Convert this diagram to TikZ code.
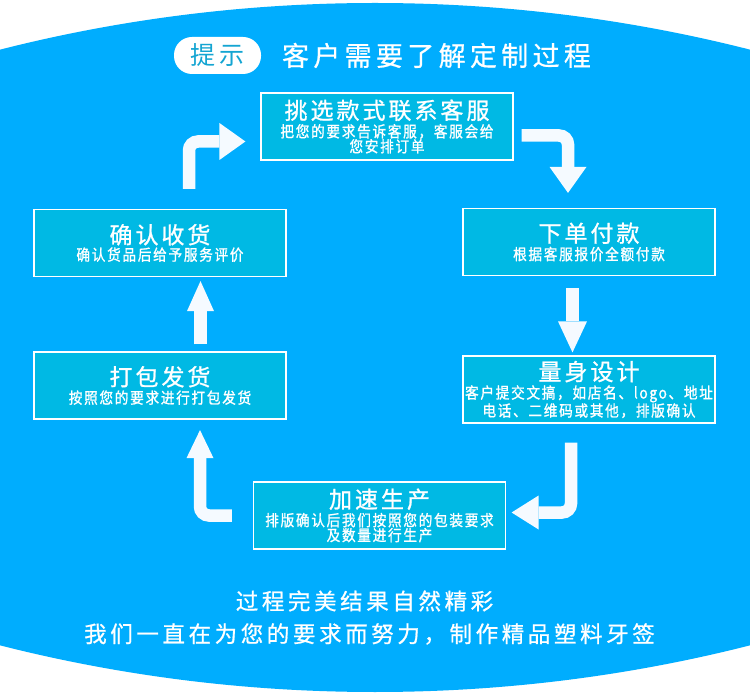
\documentclass[tikz,border=0pt]{standalone}
\usepackage{fontspec}
\setmainfont{Noto Sans CJK SC}
\usetikzlibrary{arrows.meta}
\definecolor{bgblue}{RGB}{0,173,254}
\definecolor{boxfill}{RGB}{0,185,228}
\definecolor{arrowc}{RGB}{245,250,255}
\definecolor{tipc}{RGB}{20,165,210}
\newcommand\hdrf{\fontsize{27}{30}\selectfont\addfontfeatures{LetterSpace=16,FakeBold=0.6}}
\newcommand\ttlf{\fontsize{23}{24}\selectfont\addfontfeatures{FakeStretch=1,LetterSpace=13,FakeBold=1}}
\newcommand\subf{\fontsize{15.5}{15}\selectfont\addfontfeatures{FakeStretch=0.88,LetterSpace=11,FakeBold=1.2}}
\newcommand\btmf{\fontsize{22.5}{24}\selectfont\addfontfeatures{LetterSpace=16,FakeBold=0.8}}
\tikzset{
  stepbox/.style={draw=white, line width=1.2pt, fill=boxfill, text=white,
    minimum width=252pt, minimum height=67pt, inner sep=0pt, align=center,
    font=\subf},
  arr/.style={draw=arrowc, line width=12.5pt, rounded corners=9pt},
}
\begin{document}
\begin{tikzpicture}[x=1pt,y=-1pt]
\useasboundingbox (0,0) rectangle (750,700);
\fill[white] (0,0) rectangle (750,700);
\begin{scope}
  \clip (375,1522) circle (1519);
  \clip (375,-827) circle (1519);
  \fill[bgblue] (0,0) rectangle (750,700);
\end{scope}
% header
\node[fill=white, rounded corners=18pt, minimum width=87pt, minimum height=37pt,
      inner sep=0pt, text=tipc, font={\fontsize{25}{26}\selectfont\addfontfeatures{LetterSpace=14}}]
      (tip) at (217.5,55.5) {提示};
\node[text=white, font=\hdrf, inner sep=0pt] (hdr) at (436.5,55.5) {客户需要了解定制过程};
% boxes
\node[stepbox] (pick) at (387,126.5) {{\ttlf 挑选款式联系客服}\\[2pt]把您的要求告诉客服，客服会给\\您安排订单};
\node[stepbox] (pay) at (589,242) {{\ttlf 下单付款}\\[2pt]根据客服报价全额付款};
\node[stepbox] (design) at (589,389.5) {{\ttlf 量身设计}\\[2pt]客户提交文搞，如店名、logo、地址\\电话、二维码或其他，排版确认};
\node[stepbox] (speed) at (379.5,515.5) {{\ttlf 加速生产}\\[2pt]排版确认后我们按照您的包装要求\\及数量进行生产};
\node[stepbox] (pack) at (160,385.5) {{\ttlf 打包发货}\\[2pt]按照您的要求进行打包发货};
\node[stepbox] (confirm) at (160,243) {{\ttlf 确认收货}\\[2pt]确认货品后给予服务评价};
% arrows
\draw[arr, -{Triangle[width=37pt,length=26pt,line width=0pt]}]
  ([shift={(29,-20)}]confirm.north) |- ([shift={(-15,15)}]pick.west);
\draw[arr, -{Triangle[width=37pt,length=26pt,line width=0pt]}]
  ([shift={(8,9)}]pick.east) -| ([shift={(-21,-15)}]pay.north);
\draw[arr, -{Triangle[width=29pt,length=31pt,line width=0pt]}]
  ([shift={(-16.5,12)}]pay.south) -- ([shift={(-16.5,-3)}]design.north);
\draw[arr, -{Triangle[width=34pt,length=27pt,line width=0pt]}]
  ([shift={(-18,19)}]design.south) |- ([shift={(5.5,-3)}]speed.east);
\draw[arr, -{Triangle[width=27pt,length=28pt,line width=0pt]}]
  ([shift={(-21,0)}]speed.west) -| ([shift={(40,10.5)}]pack.south);
\draw[arr, -{Triangle[width=27pt,length=30pt,line width=0pt]}]
  ([shift={(40.5,-7)}]pack.north) -- ([shift={(40.5,4)}]confirm.south);
% bottom text
\node[text=white, font=\btmf, inner sep=0pt] (b1) at (364.5,601) {过程完美结果自然精彩};
\node[text=white, font=\btmf, inner sep=0pt] (b2) at (369.5,634) {我们一直在为您的要求而努力，制作精品塑料牙签};
\end{tikzpicture}
\end{document}
